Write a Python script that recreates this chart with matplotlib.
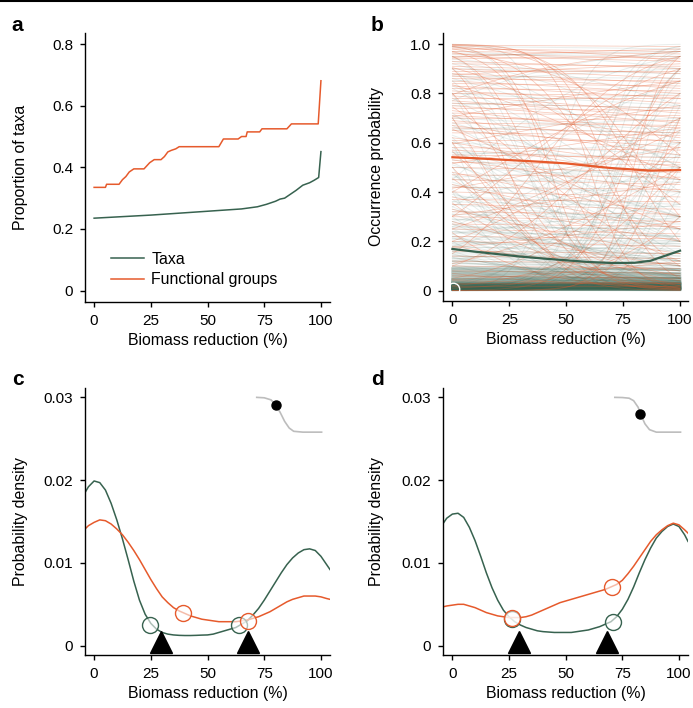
import numpy as np
import matplotlib
matplotlib.use("Agg")
import matplotlib.pyplot as plt
from matplotlib.lines import Line2D

plt.rcParams['font.family'] = ['Liberation Sans', 'DejaVu Sans']
plt.rcParams['font.size'] = 11.4

GREEN = '#37624f'
ORANGE = '#e65a2c'

# ---- panel a: proportion of taxa vs biomass reduction
a_fg_x = [0, 5, 5.5, 11, 12.5, 14, 15.5, 17.5, 22, 24.5, 26.5, 29.5, 31, 32.5, 34, 36, 37.5,
          55, 57, 63.5, 65, 67, 67.5, 73, 74, 85, 87, 98.8, 100]
a_fg_y = [0.335, 0.335, 0.345, 0.345, 0.36, 0.37, 0.385, 0.395, 0.395, 0.415, 0.425, 0.425,
          0.435, 0.45, 0.455, 0.46, 0.467, 0.467, 0.492, 0.492, 0.50, 0.50, 0.515, 0.515,
          0.525, 0.525, 0.541, 0.541, 0.681]
a_tx_x = [0, 10, 25, 35, 45, 55, 65, 72, 76, 80, 82, 84, 86, 89, 92, 95, 97, 99, 100]
a_tx_y = [0.235, 0.239, 0.245, 0.250, 0.255, 0.260, 0.265, 0.272, 0.280, 0.290, 0.297, 0.300,
          0.310, 0.325, 0.342, 0.350, 0.358, 0.367, 0.451]

# ---- panel b: per-taxon occurrence curves (value at 0% and 100% reduction)
b_or_start = [0.995, 0.98, 0.97, 0.96, 0.95, 0.94, 0.93, 0.92, 0.91, 0.90, 0.89, 0.88, 0.87,
              0.86, 0.85, 0.84, 0.83, 0.82, 0.81, 0.80, 0.79, 0.78, 0.77, 0.76, 0.75, 0.74,
              0.73, 0.72, 0.71, 0.70, 0.69, 0.68, 0.67, 0.66, 0.65, 0.64, 0.62, 0.61, 0.60,
              0.58, 0.57, 0.55, 0.53, 0.52, 0.50, 0.48, 0.47, 0.45, 0.43, 0.42, 0.40, 0.38,
              0.37, 0.35, 0.33, 0.32, 0.30, 0.28, 0.27, 0.25, 0.22, 0.20, 0.18, 0.16, 0.14,
              0.12, 0.10, 0.08, 0.06, 0.04, 0.03, 0.02,
              0.999, 0.998, 0.99, 0.97, 0.95, 0.90, 0.995, 0.99, 0.98, 0.80, 0.70, 0.60, 0.50,
              0.05, 0.10, 0.02, 0.20, 0.30, 0.15, 0.01, 0.40, 0.25, 0.001, 0.0001, 0.00001,
              0.985, 0.965, 0.945, 0.905, 0.875, 0.835, 0.795, 0.745, 0.705, 0.655, 0.595,
              0.565, 0.515, 0.455, 0.415, 0.355, 0.305, 0.235, 0.175, 0.11, 0.07, 0.045]
b_or_end = [0.99, 0.97, 0.96, 0.94, 0.93, 0.95, 0.90, 0.91, 0.88, 0.86, 0.89, 0.84, 0.82,
            0.85, 0.80, 0.83, 0.78, 0.81, 0.76, 0.79, 0.72, 0.78, 0.70, 0.74, 0.68, 0.73,
            0.62, 0.71, 0.66, 0.69, 0.60, 0.67, 0.55, 0.64, 0.58, 0.63, 0.50, 0.61, 0.45,
            0.57, 0.52, 0.54, 0.40, 0.51, 0.48, 0.30, 0.46, 0.43, 0.25, 0.41, 0.38, 0.20,
            0.36, 0.33, 0.15, 0.31, 0.28, 0.10, 0.26, 0.23, 0.21, 0.18, 0.08, 0.15, 0.13,
            0.11, 0.09, 0.07, 0.05, 0.03, 0.03, 0.02,
            0.01, 0.05, 0.002, 0.02, 0.005, 0.001, 0.20, 0.30, 0.10, 0.01, 0.005, 0.01, 0.02,
            0.60, 0.80, 0.50, 0.70, 0.90, 0.95, 0.30, 0.85, 0.65, 0.90, 0.70, 0.95,
            0.93, 0.55, 0.98, 0.35, 0.92, 0.45, 0.97, 0.12, 0.85, 0.25, 0.75,
            0.04, 0.66, 0.06, 0.58, 0.03, 0.44, 0.008, 0.28, 0.50, 0.015, 0.12]
b_gr_start = [0.99, 0.97, 0.95, 0.93, 0.90, 0.88, 0.85, 0.83, 0.80, 0.78, 0.75, 0.72, 0.70,
              0.68, 0.65, 0.62, 0.60, 0.58, 0.55, 0.52, 0.50, 0.48, 0.46, 0.44, 0.42, 0.40,
              0.38, 0.36, 0.34, 0.32, 0.30, 0.29, 0.28, 0.27, 0.26, 0.25, 0.24, 0.23, 0.22,
              0.21, 0.20, 0.19, 0.18, 0.17, 0.16, 0.15, 0.14, 0.13, 0.12, 0.11, 0.10,
              0.001, 0.0005, 0.002, 0.0001, 0.003, 0.00002, 0.005, 0.0002, 0.01, 0.0008,
              0.004, 0.00005, 0.02, 0.015, 0.0003, 0.006, 0.001, 0.03, 0.0004, 0.008, 0.0015,
              0.99, 0.95, 0.90, 0.999, 0.80, 0.60, 0.70, 0.50, 0.40, 0.85,
              0.63, 0.57, 0.53, 0.47, 0.43, 0.39, 0.37, 0.35, 0.33, 0.31, 0.29, 0.27, 0.25,
              0.24, 0.23, 0.22, 0.21, 0.20, 0.19, 0.18, 0.17, 0.16, 0.15, 0.145, 0.14, 0.135,
              0.13, 0.125, 0.12, 0.115, 0.11, 0.105, 0.10, 0.095, 0.09, 0.085, 0.08, 0.075,
              0.07, 0.065, 0.06, 0.12, 0.18, 0.26, 0.34, 0.45, 0.56, 0.67, 0.77, 0.86, 0.94,
              0.96, 0.92, 0.87, 0.82, 0.76, 0.71, 0.66, 0.61, 0.56, 0.51, 0.45, 0.41, 0.36,
              0.31, 0.28, 0.255, 0.235, 0.215, 0.195, 0.175, 0.155, 0.135, 0.118, 0.098,
              0.088, 0.078, 0.068, 0.058, 0.052, 0.048, 0.0007, 0.0025, 0.012, 0.00015]
b_gr_end = [0.98, 0.90, 0.97, 0.60, 0.88, 0.50, 0.90, 0.30, 0.75, 0.20, 0.80, 0.10, 0.65,
            0.40, 0.70, 0.05, 0.55, 0.30, 0.60, 0.15, 0.45, 0.02, 0.50, 0.20, 0.40, 0.08,
            0.35, 0.60, 0.10, 0.30, 0.02, 0.27, 0.50, 0.12, 0.25, 0.04, 0.22, 0.35, 0.08,
            0.20, 0.01, 0.18, 0.30, 0.06, 0.15, 0.02, 0.13, 0.20, 0.05, 0.10, 0.01,
            0.99, 0.95, 0.90, 0.80, 0.97, 0.60, 0.85, 0.99, 0.70, 0.50, 0.999, 0.90, 0.95,
            0.60, 0.40, 0.30, 0.25, 0.80, 0.75, 0.65, 0.55,
            0.001, 0.002, 0.01, 0.0001, 0.001, 0.0005, 0.003, 0.004, 0.002, 0.02,
            0.30, 0.20, 0.45, 0.12, 0.30, 0.25, 0.05, 0.28, 0.18, 0.10, 0.22, 0.06, 0.20,
            0.14, 0.03, 0.19, 0.12, 0.16, 0.07, 0.15, 0.10, 0.02, 0.13, 0.09, 0.12, 0.04,
            0.11, 0.08, 0.10, 0.06, 0.09, 0.03, 0.08, 0.07, 0.05, 0.07, 0.02, 0.06,
            0.05, 0.04, 0.05, 0.40, 0.55, 0.70, 0.85, 0.95, 0.30, 0.20, 0.97, 0.50, 0.75,
            0.95, 0.40, 0.86, 0.15, 0.74, 0.35, 0.64, 0.08, 0.54, 0.25, 0.44, 0.03, 0.34,
            0.29, 0.12, 0.25, 0.22, 0.06, 0.19, 0.17, 0.14, 0.04, 0.11, 0.09,
            0.085, 0.07, 0.065, 0.05, 0.055, 0.04, 0.7, 0.9, 0.45, 0.98]
# dense band of low-probability taxa
b_low_start = [0.05, 0.045, 0.04, 0.035, 0.03, 0.028, 0.025, 0.022, 0.02, 0.018, 0.015,
               0.012, 0.01, 0.008, 0.006, 0.005, 0.004, 0.003, 0.06, 0.07, 0.08, 0.09,
               0.032, 0.026, 0.017, 0.013, 0.009, 0.007, 0.011, 0.014, 0.019, 0.024]
b_low_end = [0.04, 0.05, 0.035, 0.04, 0.03, 0.025, 0.02, 0.025, 0.018, 0.02, 0.013,
             0.015, 0.01, 0.009, 0.005, 0.006, 0.003, 0.004, 0.05, 0.06, 0.07, 0.085,
             0.03, 0.028, 0.02, 0.011, 0.012, 0.006, 0.009, 0.016, 0.017, 0.03]
b_mean_x = [0, 10, 20, 30, 40, 50, 60, 70, 80, 87, 93, 100]
b_mean_fg = [0.541, 0.537, 0.532, 0.527, 0.522, 0.516, 0.506, 0.497, 0.491, 0.487, 0.488, 0.489]
b_mean_tx = [0.169, 0.158, 0.148, 0.138, 0.130, 0.123, 0.116, 0.112, 0.113, 0.121, 0.140, 0.162]

# ---- panels c and d: probability densities of thresholds
cd_x = [-4, -2.5, 0, 2.5, 5, 7.5, 10, 12.5, 15, 17.5, 20, 22.5, 25, 27.5, 30, 32.5, 35, 37.5,
        40, 42.5, 45, 47.5, 50, 52.5, 55, 57.5, 60, 62.5, 65, 67.5, 70, 72.5, 75, 77.5, 80,
        82.5, 85, 87.5, 90, 92.5, 95, 97.5, 100, 102.5, 104]
c_taxa = [0.0185, 0.0192, 0.0199, 0.0197, 0.0188, 0.0172, 0.0152, 0.0129, 0.0104, 0.0078,
          0.0055, 0.0038, 0.0027, 0.0020, 0.0016, 0.0014, 0.0013, 0.00125, 0.00123, 0.00123,
          0.00125, 0.00128, 0.0013, 0.0014, 0.0016, 0.0018, 0.0020, 0.0022, 0.0026, 0.0030,
          0.0037, 0.0045, 0.0055, 0.0066, 0.0077, 0.0088, 0.0098, 0.0106, 0.0112, 0.0116,
          0.0117, 0.0115, 0.0108, 0.0098, 0.0092]
c_fg = [0.0141, 0.0145, 0.0149, 0.0152, 0.0151, 0.0147, 0.0141, 0.0134, 0.0125, 0.0115,
        0.0104, 0.0092, 0.0080, 0.0069, 0.0059, 0.0052, 0.0046, 0.0042, 0.0039, 0.0036,
        0.0034, 0.0032, 0.0031, 0.0030, 0.0029, 0.0029, 0.0029, 0.0029, 0.0030, 0.0031,
        0.0033, 0.0035, 0.0038, 0.0041, 0.0045, 0.0049, 0.0053, 0.0056, 0.0058, 0.0060,
        0.0060, 0.0060, 0.0059, 0.0057, 0.0056]
d_taxa = [0.0148, 0.0154, 0.0159, 0.0160, 0.0155, 0.0143, 0.0127, 0.0108, 0.0088, 0.0070,
          0.0055, 0.0043, 0.0035, 0.0029, 0.0025, 0.0022, 0.0020, 0.0018, 0.0017, 0.00165,
          0.0016, 0.0016, 0.0016, 0.0016, 0.0017, 0.0018, 0.0019, 0.0021, 0.0023, 0.0026,
          0.0029, 0.0035, 0.0044, 0.0056, 0.0071, 0.0088, 0.0104, 0.0118, 0.0130, 0.0138,
          0.0144, 0.0147, 0.0144, 0.0134, 0.0126]
d_fg = [0.0047, 0.0048, 0.0049, 0.0050, 0.0050, 0.0048, 0.0046, 0.0043, 0.0040, 0.0038,
        0.0036, 0.0035, 0.0034, 0.0034, 0.0034, 0.0035, 0.0037, 0.0040, 0.0043, 0.0046,
        0.0049, 0.0052, 0.0054, 0.0056, 0.0058, 0.0060, 0.0062, 0.0064, 0.0066, 0.0068,
        0.0071, 0.0074, 0.0079, 0.0087, 0.0096, 0.0106, 0.0116, 0.0126, 0.0134, 0.0140,
        0.0145, 0.0148, 0.0146, 0.0140, 0.0136]
c_circ_tx_x = [24.5, 64]
c_circ_tx_y = [0.0025, 0.0025]
c_circ_fg_x = [39, 67.7]
c_circ_fg_y = [0.0039, 0.0030]
c_tri_x = [29.5, 68]
d_circ_tx_x = [26.4, 71]
d_circ_tx_y = [0.0032, 0.0029]
d_circ_fg_x = [26.4, 70.3]
d_circ_fg_y = [0.0034, 0.0071]
d_tri_x = [29.3, 68.2]
c_icon_x = [71.7, 75, 78, 80, 82, 84, 86, 88, 92, 100.3]
c_icon_y = [0.0300, 0.02995, 0.0297, 0.0291, 0.0282, 0.0271, 0.0263, 0.0259, 0.0258, 0.0258]
c_dot = (80.2, 0.0291)
d_icon_x = [71.7, 75, 78, 80, 82, 83, 85, 87, 90, 100.7]
d_icon_y = [0.0300, 0.02998, 0.0299, 0.0296, 0.0288, 0.0280, 0.0268, 0.0261, 0.0258, 0.0258]
d_dot = (82.8, 0.0280)

xticks = [0, 25, 50, 75, 100]

fig = plt.figure(figsize=(6.93, 7.08), dpi=100)
fig.add_artist(Line2D([0, 1], [0.998, 0.998], color='black', lw=1.5, transform=fig.transFigure))


def style(ax, ylab_x):
    for s in ['top', 'right']:
        ax.spines[s].set_visible(False)
    ax.spines['left'].set_linewidth(1.0)
    ax.spines['bottom'].set_linewidth(1.0)
    ax.tick_params(direction='out', length=3.6, width=1.0, labelsize=11, pad=5)
    ax.set_xticks(xticks)
    ax.set_xticklabels([str(t) for t in xticks])
    ax.set_xlabel('Biomass reduction (%)', fontsize=11.4, labelpad=4)
    ax.yaxis.set_label_coords(ylab_x, 0.5)


axa = fig.add_axes([0.1227, 0.5739, 0.3535, 0.3795])
axb = fig.add_axes([0.6397, 0.5749, 0.3531, 0.3785])
axc = fig.add_axes([0.1227, 0.0749, 0.3535, 0.3767])
axd = fig.add_axes([0.6397, 0.0749, 0.3531, 0.3767])

# a
style(axa, -0.233)
axa.plot(a_tx_x, a_tx_y, color=GREEN, lw=1.1, label='Taxa')
axa.plot(a_fg_x, a_fg_y, color=ORANGE, lw=1.1, label='Functional groups')
axa.set_xlim(-4, 104)
axa.set_ylim(-0.036, 0.836)
axa.set_yticks([0, 0.2, 0.4, 0.6, 0.8])
axa.set_yticklabels(['0', '0.2', '0.4', '0.6', '0.8'])
axa.set_ylabel('Proportion of taxa')
axa.legend(loc='lower left', bbox_to_anchor=(0.08, 0.03), frameon=False, handlelength=2.1,
           handletextpad=0.45, labelspacing=0.35, fontsize=11.4, borderaxespad=0)

# b
style(axb, -0.242)
xs = np.linspace(0, 100, 101)


def logit(p):
    return np.log(p / (1 - p))


for p0, p1 in zip(b_low_start, b_low_end):
    l0, l1 = logit(p0), logit(p1)
    axb.plot(xs, 1 / (1 + np.exp(-(l0 + (l1 - l0) * xs / 100))), color=GREEN, lw=1.8, alpha=0.3)
for p0, p1 in zip(b_gr_start, b_gr_end):
    l0, l1 = logit(p0), logit(p1)
    axb.plot(xs, 1 / (1 + np.exp(-(l0 + (l1 - l0) * xs / 100))), color=GREEN, lw=0.7, alpha=0.11)
for p0, p1 in zip(b_or_start, b_or_end):
    l0, l1 = logit(p0), logit(p1)
    axb.plot(xs, 1 / (1 + np.exp(-(l0 + (l1 - l0) * xs / 100))), color=ORANGE, lw=0.55, alpha=0.32)
axb.plot(b_mean_x, b_mean_fg, color=ORANGE, lw=1.6)
axb.plot(b_mean_x, b_mean_tx, color=GREEN, lw=1.6)
axb.plot([0.4], [0.006], 'o', ms=9, mfc='none', mec='white', mew=1.0, clip_on=False)
axb.set_xlim(-4, 103.5)
axb.set_ylim(-0.042, 1.045)
axb.set_yticks([0, 0.2, 0.4, 0.6, 0.8, 1.0])
axb.set_yticklabels(['0', '0.2', '0.4', '0.6', '0.8', '1.0'])
axb.set_ylabel('Occurrence probability')


def density(ax, ylab_x, tx, fg, ctx, cty, cfx, cfy, trix, icx, icy, dot):
    style(ax, ylab_x)
    ax.plot(cd_x, tx, color=GREEN, lw=1.1)
    ax.plot(cd_x, fg, color=ORANGE, lw=1.1)
    ax.plot(ctx, cty, 'o', ms=11.5, mfc=(1, 1, 1, 0.6), mec=GREEN, mew=1.0, ls='none', zorder=4)
    ax.plot(cfx, cfy, 'o', ms=11.5, mfc=(1, 1, 1, 0.6), mec=ORANGE, mew=1.0, ls='none', zorder=4)
    ax.plot(trix, [0.00044] * len(trix), '^', ms=16, color='black', ls='none', zorder=5,
            clip_on=False)
    ax.plot(icx, icy, color='#bdbdbd', lw=1.2)
    ax.plot([dot[0]], [dot[1]], 'o', ms=6.5, color='black', zorder=5)
    ax.set_xlim(-4, 104)
    ax.set_ylim(-0.00112, 0.0311)
    ax.set_yticks([0, 0.01, 0.02, 0.03])
    ax.set_yticklabels(['0', '0.01', '0.02', '0.03'])
    ax.set_ylabel('Probability density')


density(axc, -0.233, c_taxa, c_fg, c_circ_tx_x, c_circ_tx_y, c_circ_fg_x, c_circ_fg_y, c_tri_x,
        c_icon_x, c_icon_y, c_dot)
density(axd, -0.242, d_taxa, d_fg, d_circ_tx_x, d_circ_tx_y, d_circ_fg_x, d_circ_fg_y, d_tri_x,
        d_icon_x, d_icon_y, d_dot)

for lab, x, y in [('a', 0.017, 0.956), ('b', 0.535, 0.956), ('c', 0.017, 0.456), ('d', 0.535, 0.456)]:
    fig.text(x, y, lab, fontsize=15, fontweight='bold', va='baseline')

fig.savefig('out.png', dpi=100)
